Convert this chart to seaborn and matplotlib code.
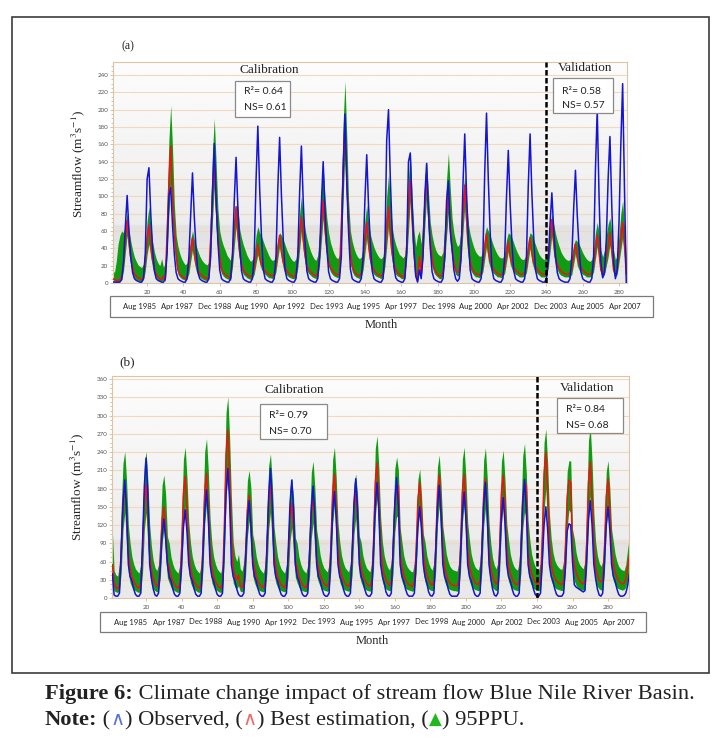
"""
Blue Nile streamflow hydrographs: observed vs best estimation with the 95PPU band,
calibration (months 1-240) and validation periods, two panels.
"""

import numpy as np
import pandas as pd
import matplotlib
matplotlib.use("Agg")
import matplotlib.pyplot as plt
import seaborn as sns
from matplotlib.patches import Rectangle

W, H = 714, 738

# ---- panel (a): monthly streamflow, one row per flood season (row ends on the peak month)
obs_a = [
    1, 1, 1, 1, 1, 4, 25, 65, 101,
    60, 30, 12, 5, 3, 2, 1, 1, 5, 35, 120, 133,
    80, 40, 14, 5, 3, 2, 1, 1, 5, 35, 100, 110,
    66, 33, 12, 5, 3, 2, 1, 1, 5, 30, 80, 127,
    76, 38, 12, 5, 3, 2, 1, 1, 5, 30, 105, 161,
    97, 48, 15, 5, 3, 2, 1, 1, 5, 30, 94, 145,
    87, 44, 14, 5, 3, 2, 1, 1, 5, 30, 118, 181,
    109, 54, 16, 5, 3, 2, 1, 1, 5, 30, 109, 168,
    101, 50, 15, 5, 3, 2, 1, 1, 5, 30, 103, 158,
    95, 47, 14, 5, 3, 2, 1, 1, 5, 30, 91, 140,
    84, 42, 13, 5, 3, 2, 1, 1, 5, 30, 127, 195,
    117, 58, 16, 5, 3, 2, 1, 1, 5, 30, 96, 148,
    89, 44, 14, 5, 3, 2, 1, 1, 5, 35, 165, 200,
    120, 60, 18, 6, 3, 2, 1, 1, 5, 35, 140, 150,
    90, 40, 8, 1, 15, 5, 30, 100, 138,
    83, 41, 13, 5, 3, 2, 1, 1, 5, 30, 95, 118,
    60, 40, 15, 5, 2, 5, 30, 112, 172,
    103, 52, 15, 5, 3, 2, 1, 1, 5, 30, 127, 196,
    118, 59, 16, 5, 3, 2, 1, 1, 5, 30, 99, 153,
    92, 46, 14, 5, 3, 2, 1, 1, 5, 30, 112, 172,
    103, 52, 15, 5, 3, 2, 1, 1, 5, 25, 68, 104,
    62, 31, 12, 5, 3, 2, 1, 1, 1, 5, 30, 85, 130,
    78, 39, 13, 5, 3, 2, 1, 1, 5, 30, 130, 200,
    100, 25, 6, 12, 50, 120, 169,
    90, 25, 5, 15, 70, 160, 230,
    110, 0,
]
best_a = [
    5, 4, 3, 3, 4, 8, 22, 50, 72,
    47, 29, 18, 10, 8, 6, 5, 4, 7, 25, 50, 67,
    44, 27, 17, 10, 7, 5, 4, 8, 4, 55, 115, 158,
    100, 60, 35, 15, 10, 8, 6, 5, 8, 20, 38, 52,
    34, 22, 15, 11, 9, 7, 6, 5, 8, 50, 100, 142,
    92, 55, 30, 16, 12, 10, 8, 7, 6, 30, 62, 88,
    57, 35, 22, 15, 12, 10, 8, 7, 9, 16, 32, 45,
    30, 22, 17, 14, 12, 10, 9, 8, 10, 20, 40, 55,
    36, 24, 18, 14, 11, 9, 8, 7, 10, 27, 55, 76,
    50, 32, 20, 15, 13, 11, 9, 8, 11, 33, 67, 95,
    62, 40, 25, 18, 15, 12, 10, 9, 12, 65, 130, 186,
    120, 70, 35, 20, 14, 11, 9, 8, 11, 25, 50, 70,
    45, 28, 19, 15, 12, 10, 9, 8, 11, 30, 62, 88,
    57, 35, 22, 16, 12, 10, 8, 7, 10, 40, 85, 119,
    75, 35, 10, 3, 30, 8, 45, 90, 126,
    80, 50, 30, 18, 13, 10, 8, 8, 12, 37, 75, 105,
    68, 42, 25, 15, 12, 14, 40, 80, 113,
    73, 45, 25, 17, 13, 11, 10, 9, 12, 20, 40, 57,
    37, 26, 19, 16, 13, 11, 10, 9, 12, 17, 34, 48,
    31, 23, 18, 15, 13, 11, 10, 10, 12, 18, 37, 52,
    34, 24, 19, 16, 13, 11, 10, 10, 12, 26, 51, 73,
    47, 30, 22, 17, 14, 12, 11, 10, 10, 12, 16, 32, 45,
    30, 22, 18, 15, 13, 11, 10, 10, 12, 20, 39, 55,
    36, 15, 10, 15, 30, 42, 58,
    38, 15, 10, 15, 35, 52, 70,
    45, 10,
]
ppu_hi_a = [
    15, 12, 25, 45, 55, 60, 58, 68, 80,
    62, 48, 38, 30, 25, 21, 19, 18, 22, 42, 72, 88,
    66, 48, 36, 28, 23, 20, 28, 18, 24, 92, 165, 205,
    155, 90, 55, 42, 34, 28, 24, 21, 23, 32, 50, 60,
    50, 43, 37, 31, 27, 24, 22, 21, 24, 85, 150, 190,
    140, 85, 60, 50, 43, 38, 32, 29, 26, 42, 72, 90,
    88, 62, 52, 44, 38, 32, 28, 25, 27, 35, 55, 65,
    58, 54, 48, 42, 37, 32, 28, 26, 27, 35, 50, 58,
    55, 50, 44, 38, 33, 29, 26, 25, 28, 45, 80, 100,
    78, 62, 52, 44, 37, 32, 28, 26, 32, 60, 108, 135,
    100, 75, 58, 47, 40, 34, 30, 28, 32, 105, 185, 233,
    170, 95, 60, 48, 40, 34, 30, 28, 30, 42, 72, 90,
    70, 56, 48, 41, 36, 32, 29, 28, 31, 56, 100, 125,
    95, 65, 52, 44, 38, 33, 31, 29, 32, 68, 122, 153,
    100, 62, 42, 55, 60, 45, 75, 120, 140,
    105, 70, 55, 45, 38, 34, 32, 31, 36, 68, 120, 150,
    110, 75, 58, 48, 42, 45, 62, 100, 125,
    95, 68, 56, 48, 41, 36, 33, 31, 31, 38, 55, 65,
    60, 55, 48, 42, 37, 33, 30, 29, 29, 35, 50, 58,
    56, 52, 46, 40, 35, 31, 28, 27, 28, 35, 50, 58,
    56, 50, 44, 38, 33, 30, 28, 27, 29, 40, 65, 80,
    68, 57, 49, 42, 36, 32, 29, 27, 26, 27, 33, 44, 50,
    48, 45, 40, 35, 31, 28, 26, 25, 27, 38, 58, 70,
    58, 38, 30, 38, 55, 68, 75,
    58, 38, 27, 32, 55, 80, 95,
    65, 30,
]
ppu_lo_a = [
    2, 2, 1, 1, 2, 4, 14, 35, 55,
    34, 20, 11, 6, 4, 3, 2, 2, 4, 14, 33, 45,
    30, 18, 10, 6, 4, 2, 2, 4, 2, 35, 80, 115,
    70, 38, 20, 10, 7, 5, 4, 3, 5, 11, 25, 38,
    24, 14, 10, 7, 5, 4, 3, 3, 5, 33, 72, 110,
    65, 35, 18, 11, 8, 6, 5, 4, 3, 18, 42, 65,
    42, 25, 15, 10, 8, 6, 5, 4, 6, 10, 22, 33,
    22, 16, 12, 10, 8, 6, 6, 5, 7, 13, 28, 42,
    28, 17, 12, 9, 7, 6, 5, 5, 6, 17, 38, 60,
    38, 23, 14, 11, 9, 7, 6, 5, 7, 21, 48, 75,
    48, 30, 19, 13, 10, 8, 7, 6, 8, 42, 95, 150,
    85, 45, 22, 13, 9, 7, 6, 5, 7, 15, 34, 52,
    33, 20, 13, 10, 8, 7, 6, 5, 7, 19, 42, 65,
    40, 24, 15, 10, 8, 7, 5, 5, 6, 27, 60, 95,
    50, 22, 6, 2, 20, 5, 30, 65, 100,
    55, 32, 19, 12, 9, 7, 5, 5, 8, 26, 55, 80,
    45, 28, 17, 10, 8, 9, 27, 58, 88,
    48, 28, 16, 12, 9, 7, 7, 6, 8, 13, 28, 42,
    25, 18, 13, 11, 9, 7, 7, 6, 8, 11, 24, 36,
    22, 16, 13, 10, 9, 7, 7, 7, 8, 12, 26, 40,
    24, 17, 13, 11, 9, 7, 7, 7, 8, 17, 36, 55,
    32, 21, 15, 11, 9, 8, 7, 7, 7, 7, 10, 22, 34,
    20, 15, 12, 10, 9, 7, 7, 7, 8, 13, 28, 42,
    25, 10, 7, 10, 20, 30, 44,
    26, 10, 7, 10, 24, 38, 52,
    30, 6,
]

# ---- panel (b)
obs_b = [
    40, 5, 3, 3, 8, 78, 155, 194,
    146, 55, 35, 28, 15, 6, 3, 3, 8, 92, 184, 230,
    172, 55, 32, 15, 5, 3, 8, 52, 104, 130,
    98, 55, 35, 28, 15, 6, 3, 3, 8, 58, 116, 145,
    109, 55, 35, 28, 15, 6, 3, 3, 8, 71, 142, 178,
    134, 55, 35, 28, 15, 6, 3, 3, 8, 85, 170, 213,
    160, 55, 35, 28, 15, 6, 3, 3, 8, 64, 128, 160,
    120, 55, 35, 28, 15, 6, 3, 3, 8, 85, 170, 213,
    160, 55, 35, 28, 15, 6, 3, 3, 8, 78, 155, 194,
    146, 55, 35, 28, 15, 6, 3, 3, 8, 74, 147, 184,
    138, 55, 35, 28, 15, 6, 3, 3, 8, 70, 140, 175,
    131, 55, 35, 28, 15, 6, 3, 3, 8, 78, 157, 196,
    147, 55, 35, 28, 15, 6, 3, 3, 8, 76, 152, 190,
    143, 55, 35, 25, 10, 4, 3, 8, 79, 158, 198,
    150, 55, 35, 28, 15, 6, 3, 3, 3, 8, 60, 120, 150,
    113, 55, 35, 25, 10, 4, 3, 8, 74, 148, 185,
    139, 55, 35, 28, 15, 6, 3, 3, 3, 3, 8, 70, 139, 174,
    131, 55, 35, 28, 15, 6, 3, 3, 8, 76, 152, 190,
    143, 55, 32, 15, 5, 3, 8, 66, 132, 165,
    124, 55, 35, 28, 15, 6, 3, 3, 8, 78, 156, 195,
    146, 55, 35, 28, 15, 6, 3, 3, 8, 60, 120, 150,
    113, 55, 35, 28, 15, 6, 3, 3, 3, 8, 49, 110, 122,
    120, 60, 22, 18, 16, 14, 12, 10, 12, 64, 128, 160,
    120, 55, 32, 15, 5, 3, 8, 60, 120, 150,
    113, 55, 35, 28, 15, 6, 3, 3, 4, 8, 20, 40,
]
best_b = [
    55, 25, 18, 15, 22, 75, 158, 186,
    140, 74, 50, 36, 28, 22, 18, 16, 24, 74, 158, 186,
    140, 74, 45, 32, 24, 19, 24, 60, 128, 150,
    112, 60, 50, 36, 28, 22, 18, 16, 24, 80, 170, 200,
    150, 80, 50, 36, 28, 22, 18, 16, 24, 82, 174, 205,
    154, 82, 50, 36, 28, 22, 18, 16, 24, 110, 235, 276,
    207, 110, 50, 36, 30, 38, 20, 17, 26, 68, 144, 169,
    127, 68, 50, 36, 28, 22, 19, 17, 25, 75, 160, 188,
    141, 75, 50, 36, 28, 22, 19, 17, 25, 62, 132, 155,
    116, 62, 50, 36, 28, 22, 19, 17, 25, 66, 140, 165,
    124, 66, 50, 38, 30, 24, 21, 19, 27, 82, 173, 204,
    153, 82, 50, 38, 30, 24, 21, 19, 27, 70, 149, 175,
    131, 70, 50, 38, 30, 24, 21, 19, 27, 89, 189, 222,
    166, 89, 52, 38, 30, 24, 21, 27, 72, 153, 180,
    185, 72, 52, 38, 30, 25, 22, 20, 19, 27, 76, 162, 190,
    142, 76, 52, 38, 30, 24, 21, 27, 81, 172, 202,
    152, 81, 52, 38, 30, 25, 22, 21, 20, 20, 27, 82, 173, 204,
    153, 82, 52, 40, 32, 26, 23, 22, 28, 78, 167, 196,
    147, 78, 48, 36, 28, 23, 28, 81, 172, 202,
    152, 81, 52, 40, 32, 26, 23, 22, 28, 76, 162, 190,
    185, 76, 52, 40, 32, 26, 23, 22, 28, 96, 204, 240,
    180, 96, 55, 42, 34, 28, 25, 23, 22, 28, 78, 165, 194,
    190, 78, 55, 42, 34, 28, 25, 23, 28, 90, 190, 224,
    168, 90, 50, 38, 30, 26, 30, 78, 167, 196,
    147, 78, 55, 42, 34, 28, 25, 23, 24, 32, 50, 70,
]
ppu_hi_b = [
    110, 45, 38, 36, 55, 150, 222, 241,
    193, 120, 90, 68, 56, 48, 44, 41, 55, 133, 222, 241,
    193, 120, 85, 62, 50, 45, 55, 111, 186, 202,
    170, 101, 90, 68, 56, 48, 44, 41, 55, 136, 228, 248,
    198, 124, 90, 68, 56, 48, 44, 41, 55, 144, 241, 262,
    210, 131, 90, 68, 56, 48, 44, 41, 55, 182, 305, 331,
    265, 165, 92, 70, 60, 72, 48, 44, 60, 116, 193, 210,
    180, 105, 90, 68, 56, 48, 44, 41, 55, 130, 218, 237,
    190, 118, 90, 68, 56, 48, 44, 41, 55, 108, 181, 197,
    165, 99, 90, 68, 56, 48, 44, 41, 55, 124, 207, 225,
    180, 112, 92, 70, 58, 50, 46, 43, 57, 136, 228, 248,
    198, 124, 92, 70, 58, 50, 46, 43, 57, 112, 188, 204,
    170, 102, 92, 70, 58, 50, 46, 43, 57, 147, 246, 267,
    214, 133, 92, 70, 58, 50, 46, 58, 128, 213, 232,
    210, 116, 92, 70, 58, 51, 47, 44, 43, 57, 117, 195, 212,
    170, 106, 92, 70, 58, 50, 46, 58, 129, 216, 235,
    188, 118, 95, 72, 60, 52, 48, 46, 45, 44, 58, 136, 228, 248,
    198, 124, 95, 72, 60, 52, 48, 46, 58, 136, 227, 247,
    198, 124, 90, 66, 54, 48, 58, 134, 224, 243,
    194, 122, 95, 72, 60, 52, 48, 46, 58, 140, 234, 254,
    205, 127, 95, 72, 60, 52, 48, 46, 58, 153, 256, 278,
    222, 139, 98, 75, 62, 55, 51, 48, 47, 60, 124, 208, 226,
    225, 113, 98, 75, 62, 55, 51, 48, 60, 155, 259, 281,
    225, 141, 92, 70, 58, 52, 60, 124, 208, 226,
    181, 113, 92, 72, 60, 52, 48, 46, 45, 55, 80, 100,
]
ppu_lo_b = [
    30, 12, 10, 9, 12, 42, 112, 140,
    84, 41, 25, 18, 14, 12, 10, 9, 12, 41, 112, 140,
    84, 41, 22, 15, 12, 10, 12, 33, 90, 112,
    68, 33, 25, 18, 14, 12, 10, 9, 12, 44, 120, 150,
    90, 44, 25, 18, 14, 12, 10, 9, 12, 45, 123, 154,
    92, 45, 25, 18, 14, 12, 10, 9, 12, 61, 166, 207,
    124, 61, 25, 18, 15, 20, 11, 10, 13, 37, 101, 127,
    76, 37, 25, 18, 14, 12, 11, 10, 13, 41, 113, 141,
    85, 41, 25, 18, 14, 12, 11, 10, 13, 34, 93, 116,
    70, 34, 25, 18, 14, 12, 11, 10, 13, 36, 99, 124,
    74, 36, 26, 19, 15, 13, 12, 11, 14, 45, 122, 153,
    92, 45, 26, 19, 15, 13, 12, 11, 14, 38, 105, 131,
    79, 38, 26, 19, 15, 13, 12, 11, 14, 49, 133, 166,
    100, 49, 26, 19, 15, 13, 12, 14, 40, 108, 135,
    130, 40, 27, 20, 16, 14, 13, 12, 11, 14, 42, 114, 142,
    86, 42, 26, 19, 15, 13, 12, 14, 44, 121, 151,
    91, 44, 27, 20, 16, 14, 13, 12, 12, 11, 14, 45, 122, 153,
    92, 45, 27, 20, 16, 14, 13, 12, 14, 43, 118, 147,
    88, 43, 24, 17, 14, 12, 14, 44, 121, 151,
    91, 44, 27, 20, 16, 14, 13, 12, 14, 42, 114, 142,
    130, 42, 27, 20, 16, 14, 13, 12, 14, 53, 144, 180,
    108, 53, 28, 21, 17, 15, 14, 13, 12, 14, 43, 116, 145,
    140, 43, 28, 21, 17, 15, 14, 13, 14, 49, 134, 168,
    101, 49, 26, 19, 15, 13, 14, 43, 118, 147,
    88, 43, 28, 21, 17, 15, 14, 13, 14, 18, 30, 40,
]

stats_a = [("0.64", "0.61"), ("0.58", "0.57")]   # calibration, validation
stats_b = [("0.79", "0.70"), ("0.84", "0.68")]
period_labels = ["Aug 1985", "Apr 1987", "Dec 1988", "Aug 1990", "Apr 1992",
                 "Dec 1993", "Aug 1995", "Apr 1997", "Dec 1998", "Aug 2000",
                 "Apr 2002", "Dec 2003", "Aug 2005", "Apr 2007"]
split_month = 240

BLUE, RED, GREEN = "#1414d4", "#f01212", "#109c10"
SERIF = ["Liberation Serif", "DejaVu Serif"]
SANS = ["Lato", "DejaVu Sans"]

sns.set_style("white")
plt.rcParams["font.family"] = SERIF
plt.rcParams["mathtext.fontset"] = "stix"


def fx(px):
    return px / W


def fy(py):
    return 1 - py / H


def draw_panel(fig, rect, obs, best, lo, hi, xlim, ymax, ystep, label_y):
    ax = fig.add_axes(rect)
    df = pd.DataFrame({"month": np.arange(1, len(obs) + 1), "obs": obs,
                       "best": best, "lo": lo, "hi": hi})

    # grey chart-area shading
    shade = np.concatenate([np.linspace(0.99, 0.925, 74),
                            np.linspace(0.885, 0.915, 26)])[:, None]
    ax.imshow(shade, cmap="gray", vmin=0, vmax=1, extent=(0, 1, 0, 1),
              transform=ax.transAxes, aspect="auto", zorder=0,
              interpolation="bilinear")

    ax.fill_between(df["month"], df["lo"], df["hi"], color=GREEN, lw=0, zorder=2)
    sns.lineplot(data=df, x="month", y="best", ax=ax, color=RED, lw=1.1, zorder=3)
    sns.lineplot(data=df, x="month", y="obs", ax=ax, color=BLUE, lw=1.1, zorder=4)
    ax.axvline(split_month, color="black", lw=1.8, ls=(0, (2.2, 1.0)), zorder=5)

    ax.set_autoscale_on(False)
    ax.set_xlim(*xlim)
    ax.set_ylim(0, ymax)
    ax.set_xticks(np.arange(20, 281, 20))
    ax.set_yticks(np.arange(0, ymax, ystep))
    ax.set_yticks(np.arange(0, ymax, ystep / 4), minor=True)
    ax.set_axisbelow(True)
    ax.yaxis.grid(True, color="#f2d8bc", lw=0.8)
    ax.xaxis.grid(False)
    ax.tick_params(axis="both", which="both", labelsize=4.5, labelcolor="#555555",
                   color="#d8b894", width=0.6, length=2, pad=1.5,
                   bottom=True, left=True)
    ax.tick_params(axis="y", which="minor", length=1.2)
    ax.tick_params(axis="x", pad=3)
    for tl in ax.get_xticklabels() + ax.get_yticklabels():
        tl.set_family(SANS)
    for sp in ax.spines.values():
        sp.set_color("#dcc4a6")
        sp.set_linewidth(0.8)
    ax.set_xlabel("")
    ax.set_ylabel(r"Streamflow (m$^{3}$s$^{-1}$)", fontsize=9.5)
    ax.yaxis.set_label_coords(-0.05, label_y)
    return ax


def stat_box(fig, box, text_xy, r2, ns):
    x0, y0, x1, y1 = box
    fig.patches.append(Rectangle((fx(x0), fy(y1)), fx(x1 - x0), (y1 - y0) / H,
                                 transform=fig.transFigure, facecolor="white",
                                 edgecolor="#8a8a8a", lw=0.9, zorder=6))
    tx, ty = text_xy
    fig.text(fx(tx), fy(ty), f"R\u00b2= {r2}", family=SANS, fontsize=7.5,
             va="center", color="#222222", zorder=7)
    fig.text(fx(tx), fy(ty + 15), f"NS= {ns}", family=SANS, fontsize=7.5,
             va="center", color="#222222", zorder=7)


def month_box(fig, x0, x1, y0, y1, first, last):
    fig.patches.append(Rectangle((fx(x0), fy(y1)), fx(x1 - x0), (y1 - y0) / H,
                                 transform=fig.transFigure, facecolor="white",
                                 edgecolor="#7a7a7a", lw=0.9))
    for lab, cx in zip(period_labels, np.linspace(first, last, len(period_labels))):
        fig.text(fx(cx), fy((y0 + y1) / 2), lab, family=SANS, fontsize=5.5,
                 ha="center", va="center", color="#222222")


def put_row(fig, x_px, y_px, pieces):
    renderer = fig.canvas.get_renderer()
    for text, kw in pieces:
        t = fig.text(fx(x_px), fy(y_px), text, ha="left", va="baseline", **kw)
        x_px += t.get_window_extent(renderer).width


def main():
    fig = plt.figure(figsize=(W / 100, H / 100), dpi=100)
    fig.patch.set_facecolor("white")

    # outer frame of the figure block
    fig.patches.append(Rectangle((fx(12), fy(673)), fx(709 - 12), (673 - 17) / H,
                                 transform=fig.transFigure, fill=False,
                                 edgecolor="#3c3c3c", lw=1.2))

    draw_panel(fig, [fx(113), fy(283), fx(514), 221 / H],
               obs_a, best_a, ppu_lo_a, ppu_hi_a, (1.2, 284.4), 255, 20, 0.54)
    draw_panel(fig, [fx(112), fy(598), fx(517), 222 / H],
               obs_b, best_b, ppu_lo_b, ppu_hi_b, (0.8, 291.8), 365, 30, 0.5)

    fig.text(fx(128), fy(46), "(a)", fontsize=8.5, ha="center", va="center")
    fig.text(fx(127), fy(362), "(b)", fontsize=9.5, ha="center", va="center")

    fig.text(fx(269), fy(70), "Calibration", fontsize=9.5, ha="center", va="center", zorder=7)
    fig.text(fx(585), fy(68), "Validation", fontsize=9.5, ha="center", va="center", zorder=7)
    fig.text(fx(294), fy(390), "Calibration", fontsize=9.5, ha="center", va="center", zorder=7)
    fig.text(fx(587), fy(388), "Validation", fontsize=9.5, ha="center", va="center", zorder=7)

    stat_box(fig, (235, 81, 290, 117), (244, 92), *stats_a[0])
    stat_box(fig, (553, 78, 613, 113), (562, 91), *stats_a[1])
    stat_box(fig, (260, 404, 327, 439), (269, 416), *stats_b[0])
    stat_box(fig, (557, 398, 623, 433), (566, 410), *stats_b[1])

    month_box(fig, 110, 653, 296, 317, 140, 625)
    month_box(fig, 100, 646, 612, 632, 131, 619)
    fig.text(fx(381), fy(325), "Month", fontsize=9, ha="center", va="center")
    fig.text(fx(372), fy(641), "Month", fontsize=9, ha="center", va="center")

    cap = dict(fontsize=16.2, color="#222222", family=SERIF)
    put_row(fig, 45, 699, [
        ("Figure 6:", dict(cap, fontweight="bold")),
        (" Climate change impact of stream flow Blue Nile River Basin.", cap),
    ])
    icon = dict(fontsize=14, family=["DejaVu Sans"])
    put_row(fig, 45, 725, [
        ("Note:", dict(cap, fontweight="bold")),
        (" (", cap), ("\u2227", dict(icon, color="#5a70e6")), (") Observed, (", cap),
        ("\u2227", dict(icon, color="#f06a6a")), (") Best estimation, (", cap),
        ("\u25b2", dict(icon, fontsize=12, color="#1fb81f")), (") 95PPU.", cap),
    ])

    fig.savefig("out.png", dpi=100, facecolor="white")
    plt.close(fig)


if __name__ == "__main__":
    main()
